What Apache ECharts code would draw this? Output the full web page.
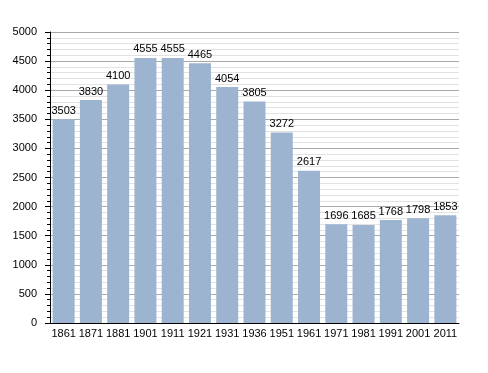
<!DOCTYPE html>
<html><head><meta charset="utf-8">
<script src="https://cdn.jsdelivr.net/npm/echarts@6/dist/echarts.min.js"></script>
<style>html,body{margin:0;padding:0;background:#fff}#c{width:488px;height:373px}</style>
</head><body><div id="c"></div>
<script>
const years = ['1861','1871','1881','1901','1911','1921','1931','1936','1951','1961','1971','1981','1991','2001','2011'];
const population = [3503,3830,4100,4555,4555,4465,4054,3805,3272,2617,1696,1685,1768,1798,1853];
const yTicks = {min:0, max:5000, interval:500};
const chart = echarts.init(document.getElementById('c'));
chart.setOption({
  animation:false,
  textStyle:{fontFamily:'Liberation Sans, Arial, sans-serif'},
  grid:{left:50, top:32, right:29, bottom:50},
  xAxis:{type:'category', data:years,
    axisLine:{lineStyle:{color:'#000', width:1}},
    axisTick:{show:false},
    axisLabel:{color:'#000', fontSize:11, margin:5, interval:0}},
  yAxis:{type:'value', min:yTicks.min, max:yTicks.max, interval:yTicks.interval,
    axisLine:{show:true, lineStyle:{color:'#000'}},
    axisTick:{show:true, length:5, lineStyle:{color:'#000'}},
    minorTick:{show:true, splitNumber:5, length:3, lineStyle:{color:'#000'}},
    splitLine:{lineStyle:{color:'#aaaaaa'}},
    minorSplitLine:{show:true, lineStyle:{color:'#e2e2e2'}},
    axisLabel:{color:'#000', fontSize:11, margin:13, formatter:(v)=>String(v)}},
  series:[{type:'bar', data:population, barWidth:22,
    itemStyle:{color:'#9cb4d0'},
    label:{show:true, position:'top', color:'#000', fontSize:11, distance:3}}]
});
</script></body></html>
